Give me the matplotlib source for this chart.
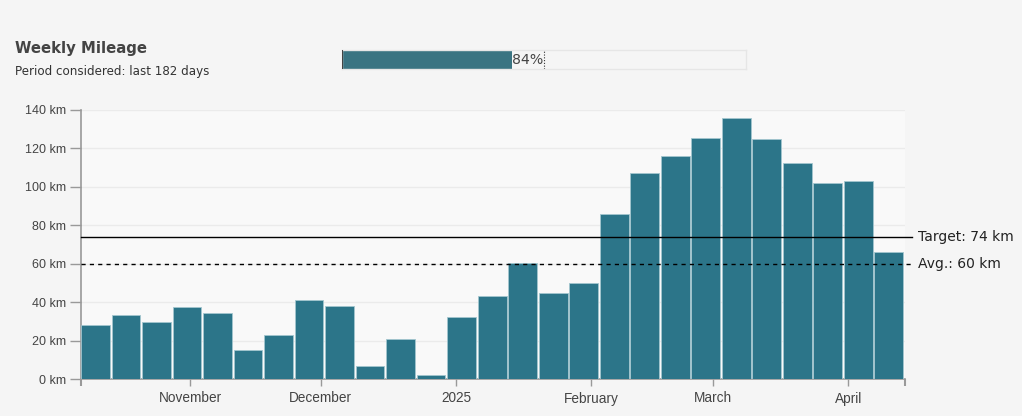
"""Weekly mileage bar chart with target and average lines."""

from datetime import date, timedelta

import matplotlib

matplotlib.use("Agg")
import matplotlib.pyplot as plt
from matplotlib.ticker import FixedFormatter

# weekly distance in km, weeks starting 2024-10-07
start_week = date(2024, 10, 7)
weekly_km = [
    28.0, 33.2, 29.6, 37.4, 34.2, 15.0, 22.8, 41.0, 37.9, 6.7,
    20.8, 2.0, 32.2, 43.0, 60.2, 44.6, 49.8, 86.1, 107.4, 116.2,
    125.6, 136.0, 125.0, 112.6, 102.2, 103.3, 65.9,
]
target_km = 74
avg_km = 60
progress_pct = 84
month_ticks = [date(2024, 11, 1), date(2024, 12, 1), date(2025, 1, 1),
               date(2025, 2, 1), date(2025, 3, 1), date(2025, 4, 1)]
month_labels = ["November", "December", "2025", "February", "March", "April"]
y_ticks = [0, 20, 40, 60, 80, 100, 120, 140]

bar_color = "#2c7589"
grey = "#999999"

plt.rcParams["font.family"] = ["DejaVu Sans"]

fig = plt.figure(figsize=(10.22, 4.16), dpi=100)
fig.patch.set_facecolor("#f5f5f5")

ax = fig.add_axes([81 / 1022, 1 - 379 / 416, 824 / 1022, 269 / 416])
ax.set_facecolor("#f9f9f9")

# bars leave a thin light gap between weeks
bar_starts = [start_week + timedelta(weeks=i, hours=2) for i in range(len(weekly_km))]
ax.bar(bar_starts, weekly_km, width=6.6, align="edge", color=bar_color,
       edgecolor="#a3c6cf", linewidth=0.6, zorder=3)

x_end = start_week + timedelta(weeks=len(weekly_km))
ax.set_xlim(start_week, x_end)
ax.set_ylim(0, 140)

ax.set_yticks(y_ticks)
ax.set_yticklabels([f"{v} km" for v in y_ticks], family="Liberation Sans",
                   fontsize=9, color="#444444")
ax.tick_params(axis="y", length=8, width=1, color=grey, pad=3)
ax.grid(axis="y", color="#ebebeb", linewidth=1, zorder=0)

ax.set_xticks(month_ticks)
ax.xaxis.set_major_formatter(FixedFormatter(month_labels))
ax.tick_params(axis="x", which="major", length=5, width=1, color=grey, pad=4,
               labelsize=9.8, labelcolor="#444444")
for label in ax.get_xticklabels():
    label.set_family("Liberation Sans")
ax.set_xticks([start_week, x_end], minor=True)
ax.tick_params(axis="x", which="minor", length=5, width=1.5, color=grey)

for side in ("top", "right"):
    ax.spines[side].set_visible(False)
for side in ("left", "bottom"):
    ax.spines[side].set_color(grey)
    ax.spines[side].set_linewidth(1.2)

# reference lines, reaching a bit past the plot
trans = ax.get_yaxis_transform()
ax.plot([0, 1.009], [target_km, target_km], transform=trans, color="black",
        linewidth=1, clip_on=False, zorder=4)
ax.plot([0, 1.009], [avg_km, avg_km], transform=trans, color="black",
        linewidth=1, linestyle=(0, (3, 3)), clip_on=False, zorder=4)
ax.text(1.016, target_km, f"Target: {target_km} km", transform=trans,
        va="center", ha="left", fontsize=10, color="#222222")
ax.text(1.016, avg_km, f"Avg.: {avg_km} km", transform=trans,
        va="center", ha="left", fontsize=10, color="#222222")

# titles
fig.text(15 / 1022, 1 - 49 / 416, "Weekly Mileage", fontsize=10.7,
         fontweight="bold", color="#444444", va="center")
fig.text(15 / 1022, 1 - 72 / 416, "Period considered: last 182 days",
         fontsize=8.6, color="#333333", va="center")

# progress bar (scale 0-200 %, dotted mark at 100 %)
pax = fig.add_axes([342 / 1022, 1 - 69 / 416, 404 / 1022, 19 / 416])
pax.set_xlim(0, 200)
pax.set_ylim(0, 1)
pax.set_facecolor("#f5f5f5")
pax.barh(0.5, progress_pct, height=1, left=0, color="#3a7482", zorder=2)
pax.axvline(100, color="#333333", linewidth=0.8, linestyle=(0, (1, 1.5)),
            zorder=3)
pax.axvline(0, color="#444444", linewidth=1.5, zorder=3)
pax.text(progress_pct + 0.4, 0.5, f"{progress_pct}%", va="center",
         ha="left", fontsize=10.2, color="#444444", zorder=4)
pax.set_xticks([])
pax.set_yticks([])
for spine in pax.spines.values():
    spine.set_color("#e6e6e6")
    spine.set_linewidth(1)

fig.savefig("out.png", dpi=100, facecolor=fig.get_facecolor())
